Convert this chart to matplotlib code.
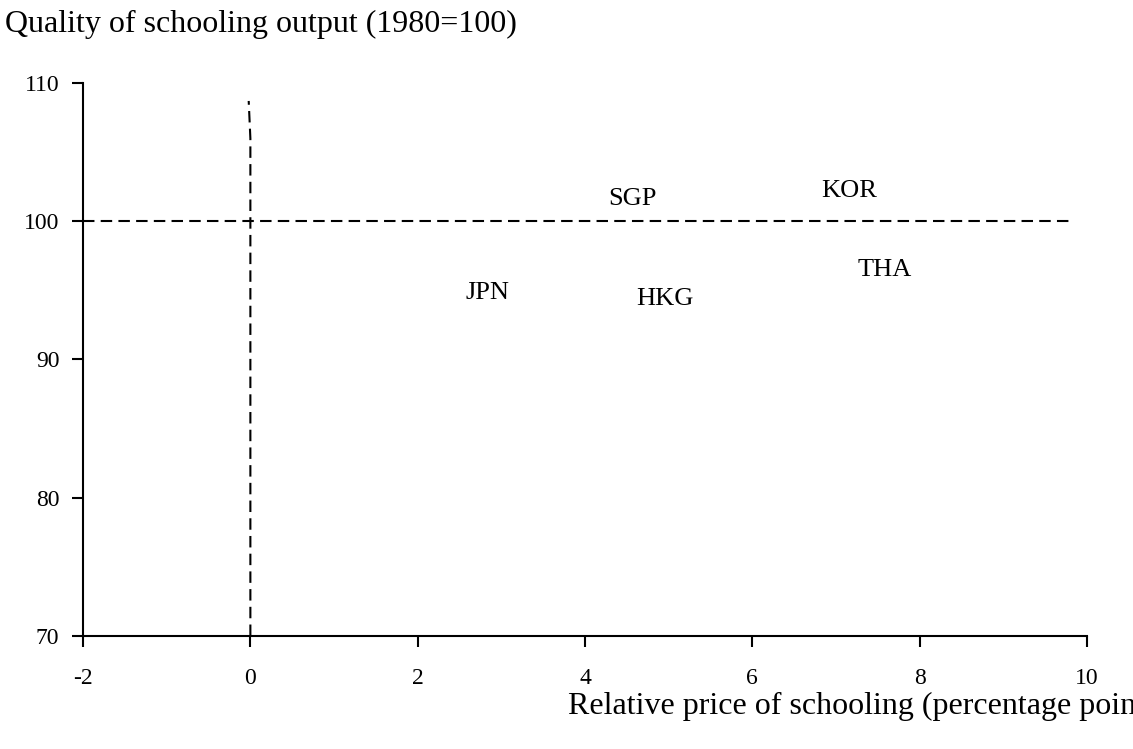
# Quality vs relative price of schooling
import matplotlib
matplotlib.use('Agg')
import matplotlib.pyplot as plt

plt.rcParams['font.family'] = ['Liberation Serif', 'DejaVu Serif']

# Data
countries = ['SGP', 'KOR', 'THA', 'JPN', 'HKG']
price = [4.57, 7.16, 7.58, 2.84, 4.96]
quality = [101.6, 102.2, 96.5, 94.8, 94.4]

xticks = [-2, 0, 2, 4, 6, 8, 10]
yticks = [70, 80, 90, 100, 110]

# reference lines
hline_x = [-2, 9.8]
hline_y = [100, 100]
vline_x = [0, 0, -0.02]
vline_y = [70, 106, 108.7]

fig = plt.figure(figsize=(11.33, 7.49), dpi=100)
ax = fig.add_axes([0.0733, 0.1509, 0.8861, 0.7383])

ax.plot(hline_x, hline_y, color='black', lw=1.5, dashes=(5.5, 3))
ax.plot(vline_x, vline_y, color='black', lw=1.5, dashes=(5.5, 3))

for c, px, q in zip(countries, price, quality):
    ax.text(px, q, c, ha='center', va='center', fontsize=19)

ax.set_xlim(-2, 10)
ax.set_ylim(70, 110)
ax.set_xticks(xticks)
ax.set_yticks(yticks)
ax.set_xticklabels([str(v) for v in xticks])
ax.tick_params(direction='out', length=8, width=1.5, labelsize=17)
ax.tick_params(axis='x', pad=15)
ax.tick_params(axis='y', pad=9)
ax.spines['top'].set_visible(False)
ax.spines['right'].set_visible(False)
ax.spines['left'].set_linewidth(1.5)
ax.spines['bottom'].set_linewidth(1.5)

fig.text(0.004, 0.968, 'Quality of schooling output (1980=100)', fontsize=23,
         ha='left', va='center')
fig.text(0.501, 0.057, 'Relative price of schooling (percentage points)',
         fontsize=23, ha='left', va='center')

fig.savefig('out.png', dpi=100)
